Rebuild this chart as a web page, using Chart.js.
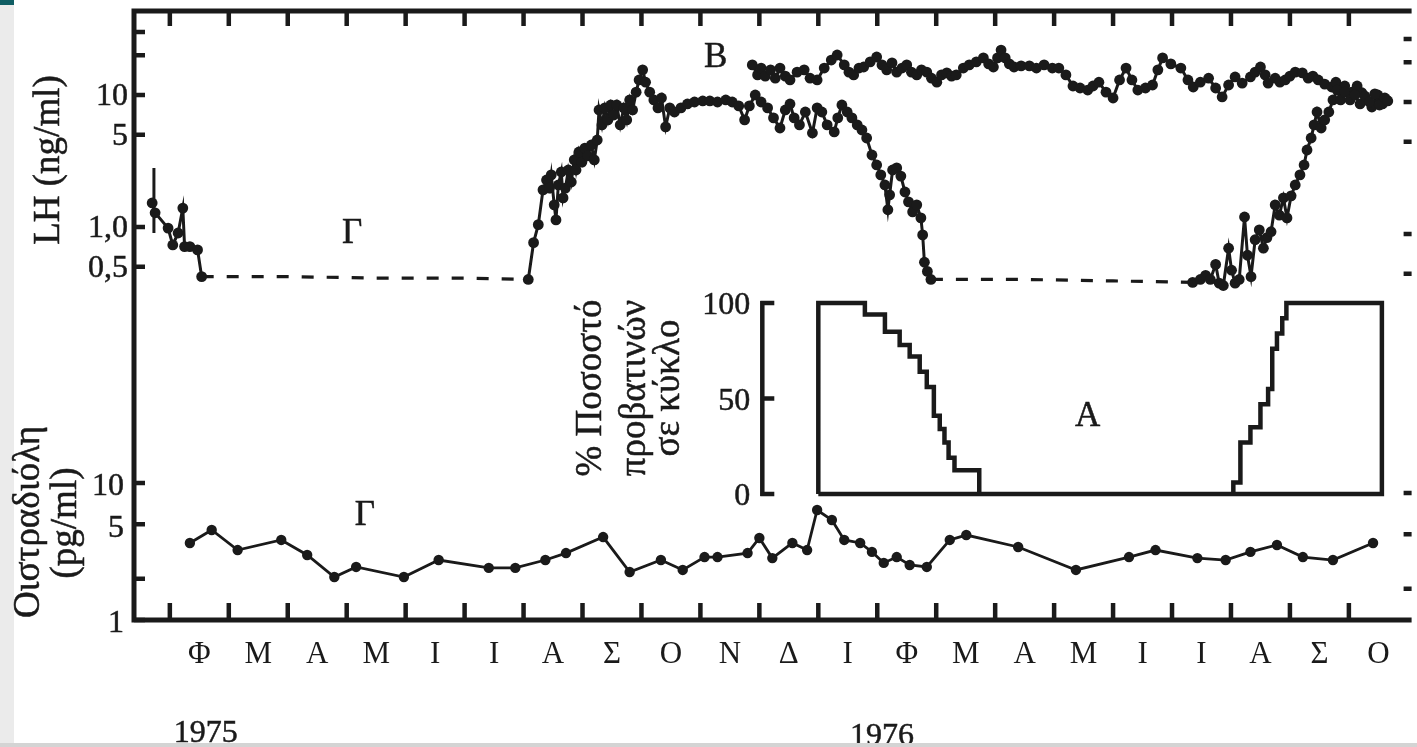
<!DOCTYPE html>
<html>
<head>
<meta charset="utf-8">
<script src="https://cdn.jsdelivr.net/npm/chart.js@4.4.1/dist/chart.umd.min.js"></script>
<style>
html,body{margin:0;padding:0;background:#fff;overflow:hidden}
#wrap{width:1417px;height:747px;position:relative}
</style>
</head>
<body>
<div id="wrap"><canvas id="c" width="1417" height="747"></canvas></div>
<script>
// ---------- DATA (x = months, 0 = start of February 1975) ----------
const monthLabels = ['Φ','Μ','Α','Μ','Ι','Ι','Α','Σ','Ο','Ν','Δ','Ι','Φ','Μ','Α','Μ','Ι','Ι','Α','Σ','Ο'];
const yearLabels = ['1975', '1976'];
const lhTickValues = [30, 20, 10, 5, 1, 0.5];
const lhTickLabels = ['', '', '10', '5', '1,0', '0,5'];
const e2TickValues = [10, 5, 2, 1];
const e2TickLabels = ['10', '5', '', '1'];
const pctTickValues = [0, 50, 100];

// LH (ng/ml), group Γ, Jan–Feb 1975
const lhEarly = [[-0.30,1.52],[-0.25,1.28],[-0.03,0.98],[0.05,0.73],[0.14,0.90],[0.22,1.39],[0.25,0.71],[0.34,0.71],[0.47,0.67],[0.54,0.42]];
const lhErrorBar = [[-0.27,0.90],[-0.27,2.80]];
// LH below detection (dashed)
const lhGap1975 = [[0.54,0.42],[2.0,0.42],[3.5,0.41],[5.0,0.41],[6.08,0.40]];
const lhGap1976 = [[12.91,0.40],[14.5,0.40],[16.0,0.39],[17.35,0.38]];
// LH rise in summer 1975 and fall in winter 1976
const lhRiseFall = [[6.08,0.40],[6.17,0.76],[6.25,1.04],[6.33,1.91],[6.39,2.27],[6.44,1.97],[6.47,2.48],[6.52,1.47],[6.55,1.13],[6.59,2.08],[6.64,2.61],[6.67,1.66],[6.71,1.97],[6.76,2.70],[6.81,2.19],[6.86,3.22],[6.89,2.70],[6.94,3.70],[6.99,3.10],[7.04,3.96],[7.09,3.45],[7.15,4.18],[7.20,3.22],[7.25,4.56],[7.28,7.70],[7.33,5.93],[7.38,7.98],[7.43,6.47],[7.48,8.40],[7.53,7.05],[7.58,8.40],[7.64,5.93],[7.70,7.98],[7.75,6.47],[7.80,9.17],[7.85,7.70],[7.91,10.5],[7.96,13.0],[8.02,15.5],[8.07,12.5],[8.14,10.5],[8.21,9.17],[8.28,7.98],[8.34,9.49],[8.41,5.73],[8.48,7.98],[8.56,7.43],[8.67,7.98],[8.78,8.55],[8.90,8.85],[9.04,9.01],[9.16,9.01],[9.29,8.85],[9.43,9.17],[9.54,8.85],[9.65,8.26],[9.75,6.47],[9.83,8.26],[9.93,10.0],[10.03,8.85],[10.14,7.98],[10.24,6.70],[10.35,5.62],[10.44,7.70],[10.52,8.55],[10.59,6.70],[10.68,5.93],[10.78,7.43],[10.90,5.15],[10.98,7.98],[11.06,7.43],[11.15,5.93],[11.27,5.25],[11.33,6.70],[11.40,8.40],[11.49,7.43],[11.57,6.70],[11.66,5.93],[11.74,5.43],[11.82,4.72],[11.91,3.51],[11.99,2.95],[12.06,2.48],[12.13,2.08],[12.18,1.35],[12.21,1.75],[12.26,2.70],[12.33,2.80],[12.40,2.43],[12.47,1.84],[12.53,1.55],[12.60,1.30],[12.67,1.47],[12.74,1.17],[12.77,0.87],[12.80,0.54],[12.85,0.46],[12.91,0.40]];
// LH rise in summer 1976
const lhRise1976 = [[17.35,0.38],[17.48,0.40],[17.57,0.43],[17.65,0.40],[17.74,0.52],[17.80,0.375],[17.87,0.36],[17.96,0.69],[18.01,0.47],[18.07,0.375],[18.14,0.40],[18.23,1.19],[18.28,0.61],[18.34,0.42],[18.41,0.80],[18.48,0.95],[18.55,0.69],[18.61,0.83],[18.68,0.92],[18.75,1.47],[18.82,1.23],[18.89,1.66],[18.95,1.17],[19.02,1.72],[19.09,2.08],[19.17,2.48],[19.24,2.95],[19.29,3.83],[19.36,4.72],[19.41,5.93],[19.46,7.43],[19.53,5.62],[19.59,6.47],[19.66,7.43],[19.73,9.17],[19.80,10.9],[19.86,9.17],[19.93,10.5],[20.02,9.17],[20.10,10.0],[20.19,8.55],[20.27,9.83],[20.35,8.85],[20.44,10.2],[20.52,8.40],[20.61,9.49],[20.66,9.01]];
// LH, group B
const lhGroupB = [[9.88,16.9],[9.97,14.2],[10.03,16.0],[10.10,13.9],[10.19,15.5],[10.27,13.4],[10.35,16.0],[10.44,13.9],[10.52,13.0],[10.64,14.9],[10.76,15.5],[10.86,13.4],[10.98,13.0],[11.10,16.0],[11.22,18.4],[11.32,20.1],[11.44,16.9],[11.52,14.9],[11.60,14.2],[11.69,16.0],[11.77,16.3],[11.88,17.8],[11.99,19.4],[12.08,16.9],[12.16,15.5],[12.25,17.5],[12.33,14.9],[12.42,16.0],[12.50,16.9],[12.58,14.9],[12.67,14.2],[12.75,15.5],[12.84,14.9],[12.92,13.4],[13.01,12.5],[13.09,14.2],[13.18,14.7],[13.26,13.9],[13.34,14.2],[13.46,16.0],[13.56,16.9],[13.68,17.8],[13.80,19.1],[13.89,17.2],[13.97,16.3],[14.04,19.1],[14.10,21.9],[14.17,19.1],[14.24,17.2],[14.32,16.3],[14.44,16.6],[14.58,16.6],[14.70,16.0],[14.83,16.9],[14.97,16.0],[15.08,16.0],[15.20,14.2],[15.32,11.7],[15.44,11.3],[15.57,10.9],[15.66,11.7],[15.76,12.5],[15.88,10.5],[16.00,9.49],[16.11,13.0],[16.22,16.0],[16.32,13.0],[16.42,10.9],[16.55,11.3],[16.67,11.9],[16.76,15.5],[16.84,19.1],[16.98,17.2],[17.15,16.0],[17.27,13.0],[17.36,11.5],[17.48,12.5],[17.62,13.4],[17.74,11.3],[17.85,9.66],[17.96,11.9],[18.07,13.7],[18.19,12.3],[18.33,13.7],[18.41,14.9],[18.50,16.3],[18.58,14.2],[18.63,12.3],[18.75,13.4],[18.83,12.5],[18.92,13.0],[19.00,13.9],[19.09,14.9],[19.21,14.7],[19.31,13.4],[19.39,13.9],[19.48,13.0],[19.59,12.1],[19.71,11.5],[19.78,12.5],[19.85,10.9],[19.93,11.7],[20.05,10.5],[20.14,11.7],[20.22,10.4],[20.30,9.17],[20.39,8.11],[20.49,10.0],[20.57,8.55],[20.64,9.17]];
// Oestradiol (pg/ml), group Γ
const e2Values = [[0.34,3.65],[0.71,4.54],[1.15,3.24],[1.89,3.84],[2.33,2.98],[2.79,2.06],[3.16,2.44],[3.97,2.06],[4.56,2.74],[5.41,2.40],[5.86,2.40],[6.37,2.74],[6.72,3.08],[7.35,4.03],[7.80,2.24],[8.33,2.74],[8.70,2.32],[9.07,2.88],[9.29,2.88],[9.80,3.08],[10.00,3.97],[10.22,2.83],[10.56,3.65],[10.81,3.24],[10.98,6.35],[11.23,5.37],[11.44,3.84],[11.71,3.65],[11.91,3.14],[12.11,2.61],[12.33,2.88],[12.55,2.52],[12.84,2.44],[13.23,3.84],[13.51,4.17],[14.39,3.41],[15.37,2.32],[16.27,2.88],[16.72,3.24],[17.43,2.83],[17.91,2.74],[18.33,3.14],[18.78,3.53],[19.22,2.88],[19.73,2.74],[20.41,3.65]];
// % of ewes cycling (group A) — value starting at each month position
const pctCycling = [[11.00,0],[11.00,100],[11.79,94],[12.13,85],[12.38,78],[12.55,72],[12.72,64],[12.84,56],[12.96,41],[13.06,34],[13.14,27],[13.21,19],[13.31,12.5],[13.73,0],[18.04,6],[18.16,27],[18.33,35],[18.50,47],[18.63,55],[18.70,76],[18.78,84],[18.87,92],[18.94,100],[20.56,0],[11.00,0]];

// ---------- STYLE / LAYOUT ----------
const FONT = "'Liberation Serif', 'DejaVu Serif', serif";
const INK = '#1a1a1a';
const X_MIN = -0.608, X_MAX = 21.064;
const INSET_AXIS_MONTH = 10.05;

const pts = arr => arr.map(([x, y]) => ({x, y}));

function vtext(c, text, x, y, size) {
  c.save(); c.translate(x, y); c.rotate(-Math.PI / 2);
  c.textAlign = 'center'; c.textBaseline = 'middle';
  c.font = size + 'px ' + FONT; c.fillText(text, 0, 0);
  c.lineWidth = 0.5; c.strokeText(text, 0, 0); c.restore();
}
function htext(c, text, x, y) { c.fillText(text, x, y); c.lineWidth = 0.5; c.strokeText(text, x, y); }

const framePlugin = {
  id: 'frame',
  beforeDraw(chart) {
    const c = chart.ctx; c.save();
    c.fillStyle = '#fff'; c.fillRect(0, 0, chart.width, chart.height);
    c.fillStyle = '#ebebeb'; c.fillRect(0, 0, 14, chart.height);
    c.fillStyle = '#0f5d63'; c.fillRect(0, 0, 14, 5);
    c.restore();
  },
  afterDraw(chart) {
    const c = chart.ctx, a = chart.chartArea;
    const {x, yLH, yE2, yPct} = chart.scales;
    c.save();
    c.strokeStyle = INK; c.fillStyle = INK; c.lineCap = 'butt';
    // frame
    c.lineWidth = 5;
    c.beginPath();
    c.moveTo(a.left - 2.5, a.top); c.lineTo(a.right, a.top);
    c.moveTo(a.left, a.top); c.lineTo(a.left, a.bottom);
    c.moveTo(a.left - 2.5, a.bottom); c.lineTo(a.right, a.bottom);
    c.stroke();
    // month ticks (top and bottom, pointing inward)
    c.lineWidth = 4.5;
    c.beginPath();
    for (let i = 0; i <= monthLabels.length - 1; i++) {
      const px = x.getPixelForValue(i);
      c.moveTo(px, a.top); c.lineTo(px, a.top + 15);
      c.moveTo(px, a.bottom); c.lineTo(px, a.bottom - 17);
    }
    lhTickValues.forEach(v => { const py = yLH.getPixelForValue(v); c.moveTo(a.left, py); c.lineTo(a.left + 11, py); });
    e2TickValues.forEach(v => { const py = yE2.getPixelForValue(v); c.moveTo(a.left, py); c.lineTo(a.left + 11, py); });
    // right-hand ticks (cut at page edge, scan is slightly skewed)
    lhTickValues.forEach(v => { const py = yLH.getPixelForValue(v) + 7; c.moveTo(a.right - 8, py); c.lineTo(a.right, py); });
    e2TickValues.slice(0, 3).forEach(v => { const py = yE2.getPixelForValue(v) + 10; c.moveTo(a.right - 8, py); c.lineTo(a.right, py); });
    c.stroke();
    // tick labels
    c.font = '32px ' + FONT; c.textAlign = 'right'; c.textBaseline = 'middle';
    lhTickValues.forEach((v, i) => { if (lhTickLabels[i]) htext(c, lhTickLabels[i], a.left - 6, yLH.getPixelForValue(v) + 2); });
    e2TickValues.forEach((v, i) => { if (e2TickLabels[i]) htext(c, e2TickLabels[i], a.left - 10, yE2.getPixelForValue(v) + 4); });
    // inset axis
    const ix = x.getPixelForValue(INSET_AXIS_MONTH);
    c.lineWidth = 4.5;
    c.beginPath();
    c.moveTo(ix, yPct.getPixelForValue(0) + 2); c.lineTo(ix, yPct.getPixelForValue(100) - 2);
    pctTickValues.forEach(v => { const py = yPct.getPixelForValue(v); c.moveTo(ix - 2, py); c.lineTo(ix + 12, py); });
    c.stroke();
    c.font = '32px ' + FONT; c.textAlign = 'right';
    pctTickValues.forEach(v => htext(c, String(v), ix - 12, yPct.getPixelForValue(v) + 3));
    // panel letters
    c.font = '35px ' + FONT; c.textAlign = 'center'; c.textBaseline = 'middle';
    htext(c, 'Γ', x.getPixelForValue(3.09), yLH.getPixelForValue(0.885));
    htext(c, 'B', x.getPixelForValue(9.26), yLH.getPixelForValue(19.1));
    htext(c, 'Γ', x.getPixelForValue(3.31), yE2.getPixelForValue(5.74));
    htext(c, 'A', x.getPixelForValue(15.57), yPct.getPixelForValue(40.3));
    // axis titles
    vtext(c, 'LH (ng/ml)', 49, 160, 37);
    vtext(c, 'Οιστραδιόλη', 29, 522, 37);
    vtext(c, '(pg/ml)', 66, 523, 37);
    const iy = yPct.getPixelForValue(55.5);
    vtext(c, '% Ποσοστό', x.getPixelForValue(7.15), iy, 37);
    vtext(c, 'προβατινών', x.getPixelForValue(7.89), iy, 37);
    vtext(c, 'σε κύκλο', x.getPixelForValue(8.48), iy, 37);
    // years
    c.font = '32px ' + FONT; c.textAlign = 'center'; c.textBaseline = 'alphabetic';
    htext(c, yearLabels[0], x.getPixelForValue(0.61), 742);
    htext(c, yearLabels[1], x.getPixelForValue(12.08), 745);
    // bottom page strip
    c.fillStyle = '#d4d4d4'; c.fillRect(0, 743, chart.width, 4);
    c.restore();
  }
};

const lhStyle = {yAxisID: 'yLH', borderColor: INK, backgroundColor: INK, borderWidth: 3, pointRadius: 5.4, pointBorderWidth: 0, pointBackgroundColor: INK, tension: 0};
const dashStyle = {yAxisID: 'yLH', borderColor: INK, borderWidth: 3.2, borderDash: [12, 13], pointRadius: 0, tension: 0};

new Chart(document.getElementById('c'), {
  type: 'line',
  data: {
    datasets: [
      Object.assign({label: 'LH Γ 1975', data: pts(lhEarly)}, lhStyle),
      {label: 'LH error', data: pts(lhErrorBar), yAxisID: 'yLH', borderColor: INK, borderWidth: 3, pointRadius: 0},
      Object.assign({label: 'LH undetectable 1975', data: pts(lhGap1975)}, dashStyle),
      Object.assign({label: 'LH rise/fall', data: pts(lhRiseFall)}, lhStyle),
      Object.assign({label: 'LH undetectable 1976', data: pts(lhGap1976)}, dashStyle),
      Object.assign({label: 'LH rise 1976', data: pts(lhRise1976)}, lhStyle),
      Object.assign({label: 'LH B', data: pts(lhGroupB)}, lhStyle),
      {label: 'Oestradiol', data: pts(e2Values), yAxisID: 'yE2', borderColor: INK, backgroundColor: INK, borderWidth: 2.8, pointRadius: 5.2, pointBorderWidth: 0, pointBackgroundColor: INK, tension: 0},
      {label: '% cycling', data: pts(pctCycling), yAxisID: 'yPct', borderColor: INK, borderWidth: 4.5, pointRadius: 0, stepped: 'before', tension: 0}
    ]
  },
  options: {
    responsive: false,
    animation: false,
    devicePixelRatio: 1,
    events: [],
    layout: {padding: {left: 134, top: 11, right: 0, bottom: 0}},
    plugins: {legend: {display: false}, tooltip: {enabled: false}},
    scales: {
      x: {
        type: 'linear', position: 'bottom', min: X_MIN, max: X_MAX,
        grid: {display: false, drawTicks: false}, border: {display: false},
        afterFit(s) { s.height = 127; },
        afterBuildTicks(s) { s.ticks = monthLabels.map((_, i) => ({value: i + 0.5})); },
        ticks: {autoSkip: false, maxRotation: 0, padding: 16, color: INK,
                font: {family: FONT, size: 31},
                callback: (v, i) => monthLabels[i]}
      },
      yLH: {type: 'logarithmic', display: false, min: 0.00105, max: 43.3},
      yE2: {type: 'logarithmic', display: false, min: 1, max: 27870},
      yPct: {type: 'linear', display: false, min: -65.97, max: 252.9}
    }
  },
  plugins: [framePlugin]
});
</script>
</body>
</html>
